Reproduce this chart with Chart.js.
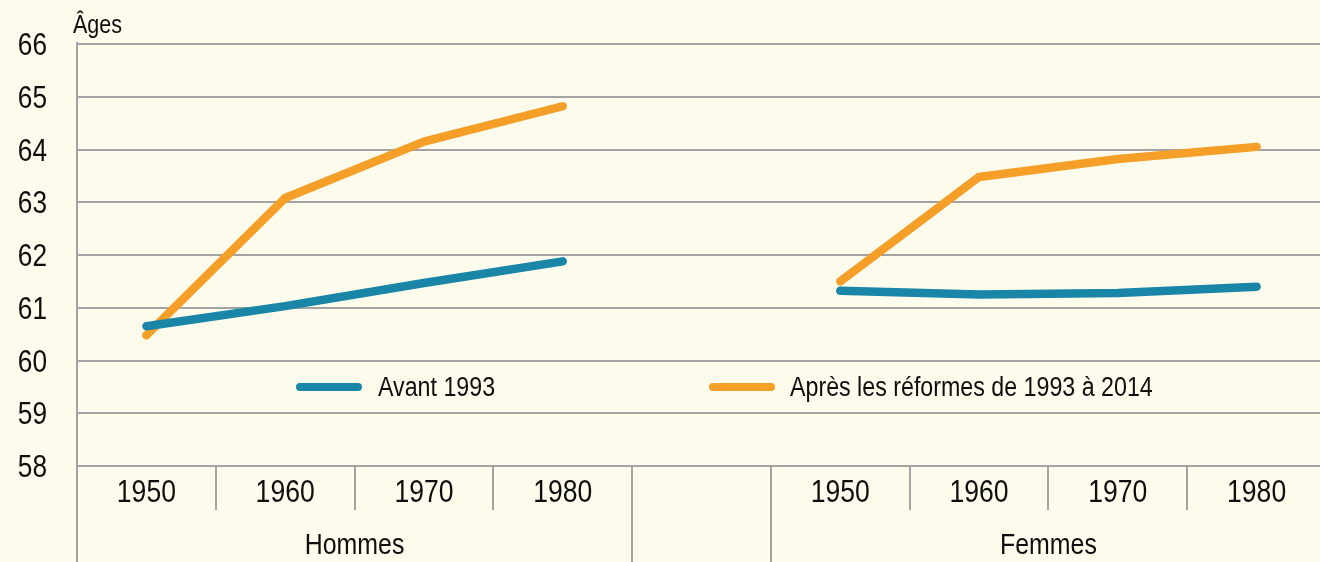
<!DOCTYPE html>
<html>
<head>
<meta charset="utf-8">
<script src="https://cdn.jsdelivr.net/npm/chart.js@4/dist/chart.umd.min.js"></script>
<style>
  html, body { margin: 0; padding: 0; background: #fdfbeb; overflow: hidden; }
  #wrap { width: 1326px; height: 562px; }
</style>
</head>
<body>
<div id="wrap"><canvas id="c" width="1326" height="562"></canvas></div>
<script>
// ---- Data ----
const categories = ['1950', '1960', '1970', '1980', '', '1950', '1960', '1970', '1980'];
const groupLabels = ['Hommes', 'Femmes'];
const groupRanges = [[0, 3], [5, 8]];
const seriesNames = ['Avant 1993', 'Après les réformes de 1993 à 2014'];
const avant1993 = [60.65, 61.03, 61.47, 61.88, null, 61.32, 61.25, 61.28, 61.40];
const apresReformes = [60.48, 63.08, 64.15, 64.82, null, 61.50, 63.48, 63.82, 64.05];
const yMin = 58, yMax = 66, yStep = 1;
const yTitle = 'Âges';

const FONT = "'Liberation Sans', Arial, sans-serif";
const BLUE = '#1a86a7';
const ORANGE = '#f59f29';
const GRID = '#a3a3a3';
const TEXT = '#0e0e0e';

// draw horizontally condensed text (real text, via fillText)
function condText(ctx, text, x, y, align, size, sx) {
  ctx.save();
  ctx.font = size + 'px ' + FONT;
  ctx.fillStyle = TEXT;
  ctx.textBaseline = 'alphabetic';
  const w = ctx.measureText(text).width * sx;
  let left = x;
  if (align === 'center') left = x - w / 2;
  else if (align === 'right') left = x - w;
  ctx.translate(left, y);
  ctx.scale(sx, 1);
  ctx.textAlign = 'left';
  ctx.fillText(text, 0, 0);
  ctx.restore();
}

const decorPlugin = {
  id: 'decor',
  beforeDatasetsDraw(chart) {
    const ctx = chart.ctx;
    const x = chart.scales.x, y = chart.scales.y;
    const area = chart.chartArea;
    const n = categories.length;
    const w = (x.getPixelForValue(1) - x.getPixelForValue(0));
    const H = chart.height;
    ctx.save();
    ctx.strokeStyle = GRID;
    ctx.lineWidth = 2;
    // category boundaries
    const groupEdges = new Set([0, 4, 5, 9]);
    for (let i = 0; i <= n; i++) {
      const bx = Math.round(x.getPixelForValue(0) - w / 2 + i * w);
      const bottom = groupEdges.has(i) ? H : area.bottom + 44;
      ctx.beginPath();
      ctx.moveTo(bx, i === 0 ? area.top - 2 : area.bottom);
      ctx.lineTo(bx, bottom);
      ctx.stroke();
    }
    ctx.restore();
    // y tick labels
    y.ticks.forEach(t => {
      const py = y.getPixelForValue(t.value);
      condText(ctx, String(t.value), area.left - 30, py + 11, 'right', 32, 0.82);
    });
    // x tick labels
    categories.forEach((c, i) => {
      if (!c) return;
      condText(ctx, c, x.getPixelForValue(i), area.bottom + 36, 'center', 32, 0.83);
    });
    // group labels
    groupLabels.forEach((g, k) => {
      const [a, b] = groupRanges[k];
      const cx = (x.getPixelForValue(a) + x.getPixelForValue(b)) / 2;
      condText(ctx, g, cx, area.bottom + 88, 'center', 30, 0.83);
    });
    // y title
    condText(ctx, yTitle, area.left - 4, area.top - 11, 'left', 25, 0.86);
  },
  afterDatasetsDraw(chart) {
    const ctx = chart.ctx;
    const y = chart.scales.y;
    const ly = y.getPixelForValue(59.5);
    const items = [
      { x: 300, tx: 378, color: BLUE, label: seriesNames[0] },
      { x: 713, tx: 790, color: ORANGE, label: seriesNames[1] }
    ];
    ctx.save();
    ctx.lineCap = 'round';
    ctx.lineWidth = 8;
    items.forEach(it => {
      ctx.strokeStyle = it.color;
      ctx.beginPath();
      ctx.moveTo(it.x, ly);
      ctx.lineTo(it.x + 58, ly);
      ctx.stroke();
      condText(ctx, it.label, it.tx, ly + 9, 'left', 27, 0.86);
    });
    ctx.restore();
  }
};

new Chart(document.getElementById('c'), {
  type: 'line',
  data: {
    labels: categories,
    datasets: [
      { label: seriesNames[0], data: avant1993, borderColor: BLUE, backgroundColor: BLUE },
      { label: seriesNames[1], data: apresReformes, borderColor: ORANGE, backgroundColor: ORANGE }
    ]
  },
  options: {
    responsive: false,
    devicePixelRatio: 1,
    animation: false,
    spanGaps: false,
    layout: { padding: { top: 44, left: 0, right: 0, bottom: 0 } },
    elements: {
      line: { borderWidth: 8.5, borderCapStyle: 'round', borderJoinStyle: 'round', tension: 0 },
      point: { radius: 0, hoverRadius: 0 }
    },
    plugins: { legend: { display: false }, tooltip: { enabled: false } },
    scales: {
      x: {
        offset: true,
        grid: { display: false, drawTicks: false },
        border: { display: false },
        ticks: { display: false, autoSkip: false },
        afterFit(scale) { scale.height = 96; }
      },
      y: {
        min: yMin, max: yMax,
        grid: { color: GRID, lineWidth: 2, drawTicks: false },
        border: { display: true, color: GRID, width: 2 },
        ticks: { display: false, stepSize: yStep },
        afterFit(scale) { scale.width = 77; }
      }
    }
  },
  plugins: [decorPlugin]
});
</script>
</body>
</html>
